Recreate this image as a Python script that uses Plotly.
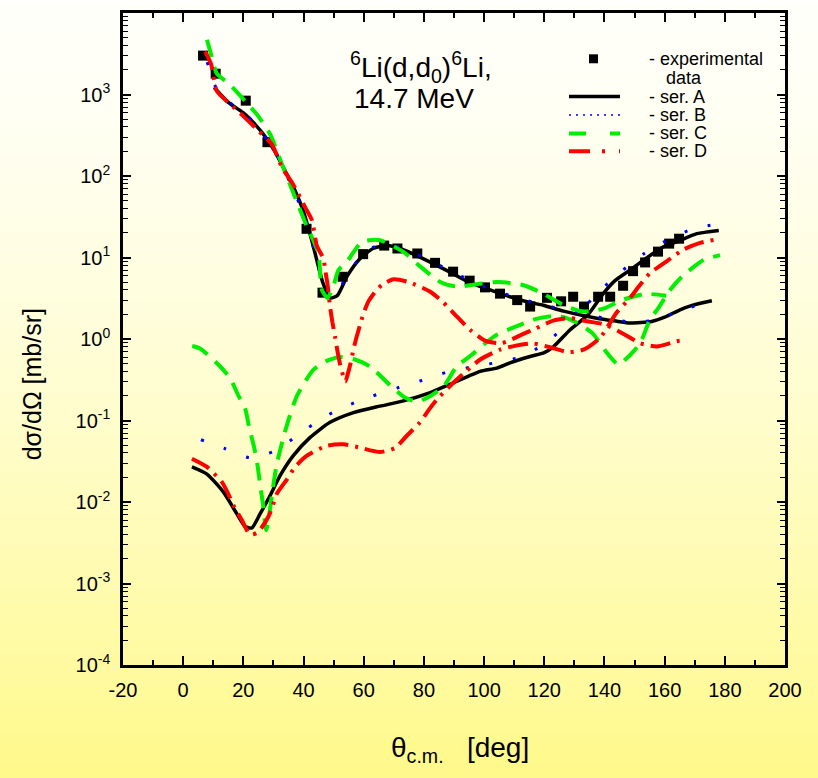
import plotly.graph_objects as go

# ---------------- data ----------------
exp_x = [6.6, 10.8, 20.8, 28.0, 41.0, 46.3, 53.0, 59.8, 66.8, 71.2, 77.8, 83.7, 89.7, 95.2,
         100.3, 105.3, 111.0, 115.3, 120.9, 125.6, 129.6, 133.2, 137.9, 141.9, 146.2,
         149.5, 153.5, 157.8, 161.5, 164.8]
exp_y = [3000, 1800, 840, 260, 22.5, 3.7, 5.8, 11.0, 14.0, 12.9, 11.2, 8.6, 6.7, 5.2,
         4.3, 3.6, 3.0, 2.5, 3.2, 2.9, 3.3, 2.5, 3.3, 3.3, 4.5,
         6.8, 8.7, 11.8, 14.8, 17.0]

A_up_x = [10.3, 15.0, 19.9, 23.9, 27.9, 30.6, 33.9, 37.2, 39.9, 42.5, 44.5, 46.5, 48.8, 51.2,
          54.5, 58.8, 63.1, 67.8, 72.1, 79.7, 87.7, 94.4, 102.0, 108.6, 115.3, 119.6, 126.4,
          137.4, 144.2, 148.5, 155.7, 160.0, 165.1, 169.4, 175.7]
A_up_y = [1220, 800, 600, 430, 283, 196, 115, 66, 37.5, 17.5, 9.0, 4.8, 3.2, 3.4,
          5.9, 9.7, 12.9, 14.0, 12.9, 9.7, 6.9, 5.1, 4.0, 3.3, 2.8, 2.6, 2.2,
          1.8, 1.65, 1.57, 1.64, 1.85, 2.28, 2.6, 2.95]

A_lo_x = [2.9, 7.9, 13.4, 17.8, 20.6, 22.8, 25.6, 28.9, 32.2, 36.6, 42.2, 48.8, 56.6, 65.4,
          73.2, 82.1, 89.8, 98.7, 104.2, 108.6, 115.3, 120.0, 123.0, 128.6, 134.6, 139.6,
          143.5, 148.5, 153.0, 159.6, 164.0, 170.7, 178.0]
A_lo_y = [0.027, 0.022, 0.0132, 0.0072, 0.0050, 0.0048, 0.0072, 0.012, 0.021, 0.037, 0.062,
          0.095, 0.125, 0.15, 0.174, 0.22, 0.29, 0.40, 0.44, 0.51, 0.61, 0.68, 0.8, 1.3, 2.0,
          3.6, 5.2, 7.0, 9.3, 13.5, 15.5, 19.6, 21.5]

B_up_x = [8.0, 10.5, 15.0, 20.0, 24.0, 28.0, 31.0, 34.0, 37.0, 40.0, 42.5, 45.0, 47.5, 49.5,
          52.0, 55.0, 59.0, 63.0, 68.0, 72.0, 80.0, 88.0, 95.0, 102.0, 110.0, 120.0, 130.0,
          140.0, 150.0, 158.0, 166.0, 176.0]
B_up_y = [2500, 1300, 820, 610, 430, 275, 185, 110, 62, 35, 17, 7.5, 3.6, 3.4,
          4.2, 6.5, 10.2, 13.3, 14.4, 13.3, 10.0, 7.1, 5.3, 4.1, 3.3, 2.6, 2.15,
          1.8, 1.6, 1.75, 2.3, 2.9]

B_lo_x = [5.9, 14.0, 22.0, 30.3, 38.3, 46.6, 54.9, 63.0, 71.0, 79.3, 87.4, 95.3, 103.6, 112.0,
          119.7, 126.9, 133.0, 139.1, 145.7, 153.5, 161.8, 169.5, 177.3]
B_lo_y = [0.058, 0.045, 0.035, 0.042, 0.067, 0.109, 0.154, 0.20, 0.25, 0.31, 0.39, 0.45, 0.51,
          0.60, 0.85, 1.43, 2.4, 4.1, 6.8, 11.4, 17.0, 22.5, 25.6]

C_up_x = [7.9, 9.0, 11.2, 15.0, 20.6, 24.5, 28.9, 32.8, 37.2, 41.1, 43.0, 45.0, 46.1, 48.0,
          50.0, 51.6, 54.4, 59.4, 65.4, 73.2, 78.2, 85.4, 90.9, 99.2, 104.8, 112.8, 118.4,
          126.4, 131.9, 136.0, 140.2, 145.7, 153.5, 160.5]
C_up_y = [4700, 3380, 1800, 1380, 830, 570, 325, 140, 55, 24, 17, 11, 4.0, 3.2,
          4.6, 7.0, 8.9, 15.5, 16.3, 11.7, 8.1, 5.0, 4.4, 4.8, 5.0, 4.6, 3.8,
          2.6, 2.2, 2.2, 2.4, 3.0, 3.57, 3.4]

C_lo_x = [3.0, 5.7, 12.3, 15.6, 18.4, 20.6, 22.0, 23.4, 24.6, 25.6, 26.6, 27.6, 28.6, 29.6,
          31.1, 34.4, 37.8, 43.3, 48.3, 52.5, 57.1, 62.1, 68.8, 73.8, 78.0, 82.1, 86.5, 90.9,
          95.9, 103.7, 109.2, 117.0, 122.5, 126.5, 131.0, 136.0, 140.8, 144.6, 150.2, 152.4,
          155.1, 157.9, 161.8, 165.7, 172.9, 178.4]
C_lo_y = [0.82, 0.76, 0.46, 0.33, 0.20, 0.14, 0.08, 0.05, 0.03, 0.016, 0.009, 0.0045, 0.007,
          0.013, 0.029, 0.086, 0.20, 0.42, 0.55, 0.60, 0.56, 0.46, 0.27, 0.19, 0.17, 0.20,
          0.26, 0.46, 0.64, 1.1, 1.36, 1.75, 1.9, 1.85, 1.57, 1.18, 0.68, 0.49, 0.74, 0.98,
          1.72, 2.4, 4.0, 5.8, 9.3, 10.7]

D_up_x = [7.3, 9.3, 11.2, 15.6, 20.0, 24.5, 29.5, 32.8, 36.1, 38.3, 40.5, 42.8, 44.4, 46.6,
          47.2, 48.0, 48.8, 49.6, 50.5, 51.3, 52.2, 53.3, 53.9, 54.6, 55.6, 56.6, 57.6, 58.8,
          60.0, 61.6, 63.8, 66.0, 69.9, 74.9, 82.1, 86.5, 90.4, 95.3, 100.5, 105.9, 112.5,
          117.4, 123.0, 128.6, 134.7, 140.2, 146.8, 151.8, 157.4, 164.0, 166.0]
D_up_y = [3380, 2340, 1100, 760, 543, 373, 245, 128, 84, 60, 41.5, 28.5, 14.0, 9.7,
          7.0, 4.6, 2.5, 1.6, 1.05, 0.70, 0.48, 0.34, 0.30, 0.36, 0.50, 0.75, 1.05, 1.5,
          2.1, 2.9, 3.8, 4.6, 5.4, 5.0, 3.8, 2.8, 1.98, 1.3, 0.95, 0.89, 1.13,
          1.36, 1.68, 1.80, 1.64, 1.5, 1.13, 0.89, 0.81, 0.94, 0.96]

D_lo_x = [2.9, 7.9, 12.9, 15.1, 16.7, 19.5, 21.7, 23.0, 25.0, 28.3, 29.8, 31.1, 34.5, 37.2,
          41.1, 47.7, 53.3, 58.2, 65.4, 70.4, 74.3, 78.7, 81.8, 84.8, 89.8, 94.0, 98.7, 105.3,
          110.6, 116.4, 122.5, 128.0, 133.0, 138.5, 144.0, 148.5, 151.6, 155.1, 161.2, 166.2,
          171.8, 178.4]
D_lo_y = [0.034, 0.027, 0.0175, 0.0123, 0.0091, 0.006, 0.0042, 0.0040, 0.0043, 0.0066, 0.0091,
          0.0126, 0.019, 0.027, 0.037, 0.049, 0.051, 0.047, 0.041, 0.046, 0.065, 0.095, 0.138,
          0.19, 0.29, 0.40, 0.56, 0.74, 0.83, 0.88, 0.78, 0.69, 0.74, 1.03, 2.1, 3.2, 4.5, 6.4,
          9.3, 12.5, 15.1, 17.0]

x_tick_vals = [-20, 0, 20, 40, 60, 80, 100, 120, 140, 160, 180, 200]
x_tick_text = ["-20", "0", "20", "40", "60", "80", "100", "120", "140", "160", "180", "200"]
y_tick_vals = [1e-4, 1e-3, 1e-2, 1e-1, 1e0, 1e1, 1e2, 1e3]
y_tick_text = ["10<sup>-4</sup>", "10<sup>-3</sup>", "10<sup>-2</sup>", "10<sup>-1</sup>",
               "10<sup>0</sup>", "10<sup>1</sup>", "10<sup>2</sup>", "10<sup>3</sup>"]
legend_labels = ["- experimental", "data", "- ser. A", "- ser. B", "- ser. C", "- ser. D"]

# ---------------- layout helpers ----------------
W, H = 818, 778
L, R, T, B = 123, 33, 10, 113
PW, PH = W - L - R, H - T - B
FONT = "Liberation Sans, Arial, sans-serif"


def px(x):
    return (x - L) / PW


def py(y):
    return (H - B - y) / PH


GREEN = "#00ee00"
RED = "#ff0000"
BLUE = "#0000ff"

styles = {
    "A": dict(color="black", width=3.5, dash="solid"),
    "B": dict(color=BLUE, width=3, dash="3px,21px"),
    "C": dict(color=GREEN, width=4, dash="18px,10px"),
    "D": dict(color=RED, width=4, dash="20px,7px,3px,7px"),
}

fig = go.Figure()
fig.add_trace(go.Scatter(x=exp_x, y=exp_y, mode="markers",
                         marker=dict(symbol="square", size=10, color="black"),
                         showlegend=False, hoverinfo="skip"))
series = [("A", A_up_x, A_up_y), ("A", A_lo_x, A_lo_y),
          ("B", B_up_x, B_up_y), ("B", B_lo_x, B_lo_y),
          ("C", C_up_x, C_up_y), ("C", C_lo_x, C_lo_y),
          ("D", D_up_x, D_up_y), ("D", D_lo_x, D_lo_y)]
for key, xs, ys in series:
    fig.add_trace(go.Scatter(x=xs, y=ys, mode="lines",
                             line=dict(shape="spline", smoothing=0.6, **styles[key]),
                             showlegend=False, hoverinfo="skip"))

# background gradient
shapes = []
N = 156
for i in range(N):
    y0 = i * H / N
    y1 = (i + 1) * H / N
    t = (y0 + y1) / 2 / H
    g = 255 - 6 * t ** 1.5
    b = 250 - 112 * t ** 1.4
    shapes.append(dict(type="rect", xref="paper", yref="paper",
                       x0=px(-2), x1=px(W + 2), y0=py(y1 + 0.6), y1=py(y0),
                       fillcolor=f"rgb(255,{g:.0f},{b:.0f})", line=dict(width=0),
                       layer="below"))

# custom legend symbols
shapes.append(dict(type="rect", xref="paper", yref="paper",
                   x0=px(589), x1=px(598), y0=py(60.5), y1=py(51.5),
                   fillcolor="black", line=dict(width=0)))
leg_y = [94, 112.5, 131, 149]
leg_dash = ["solid", "2px,5px", "17px,24px", "21px,12px,3px,14px"]
leg_w = [3.5, 1.5, 4, 4]
for key, yy, dsh, lw in zip(["A", "B", "C", "D"], leg_y, leg_dash, leg_w):
    shapes.append(dict(type="line", xref="paper", yref="paper",
                       x0=px(569), x1=px(620), y0=py(yy), y1=py(yy),
                       line=dict(color=styles[key]["color"], width=lw, dash=dsh)))

annotations = []
leg_pos = [(647, 56), (664, 75), (647, 94), (647, 112.5), (647, 131), (647, 149)]
for txt, (lx, ly) in zip(legend_labels, leg_pos):
    annotations.append(dict(text=txt, xref="paper", yref="paper", x=px(lx), y=py(ly),
                            xanchor="left", yanchor="middle", showarrow=False,
                            font=dict(family=FONT, size=18, color="black")))

annotations.append(dict(text="<sup>6</sup>Li(d,d<sub>0</sub>)<sup>6</sup>Li,",
                        xref="paper", yref="paper", x=px(348), y=py(64),
                        xanchor="left", yanchor="middle", showarrow=False,
                        font=dict(family=FONT, size=28, color="black")))
annotations.append(dict(text="14.7 MeV", xref="paper", yref="paper", x=px(352), y=py(96),
                        xanchor="left", yanchor="middle", showarrow=False,
                        font=dict(family=FONT, size=28, color="black")))

annotations.append(dict(text="d\u03c3/d\u03a9 [mb/sr]", xref="paper", yref="paper",
                        x=px(32), y=py(383), textangle=-90, xanchor="center",
                        yanchor="middle", showarrow=False,
                        font=dict(family=FONT, size=25, color="black")))
annotations.append(dict(text="\u03b8<sub>c.m.</sub>\u00a0\u00a0 [deg]", xref="paper",
                        yref="paper", x=px(460), y=py(750), xanchor="center",
                        yanchor="middle", showarrow=False,
                        font=dict(family=FONT, size=28, color="black")))

minor_log = [m * 10 ** e for e in range(-4, 4) for m in range(2, 10)]

fig.update_layout(
    width=W, height=H,
    margin=dict(l=L, r=R, t=T, b=B, pad=0),
    paper_bgcolor="white",
    plot_bgcolor="rgba(0,0,0,0)",
    shapes=shapes,
    annotations=annotations,
    showlegend=False,
    font=dict(family=FONT, color="black"),
    xaxis=dict(range=[-20, 200], tickmode="array", tickvals=x_tick_vals,
               ticktext=x_tick_text, ticks="inside", ticklen=9,
               tickwidth=2, tickcolor="black",
               minor=dict(tickmode="linear", tick0=0, dtick=10, ticks="inside", ticklen=5,
                          tickwidth=1.5, tickcolor="black", showgrid=False),
               showline=True, linewidth=2.5, linecolor="black", mirror="allticks",
               showgrid=False, zeroline=False, tickfont=dict(size=20, color="black"),
               ticklabelstandoff=5),
    yaxis=dict(type="log", range=[-4, 4], tickmode="array", tickvals=y_tick_vals,
               ticktext=y_tick_text, ticks="inside", ticklen=8, tickwidth=2,
               tickcolor="black",
               minor=dict(tickmode="array", tickvals=minor_log, ticks="inside",
                          ticklen=5, tickwidth=1.3, tickcolor="black", showgrid=False),
               showline=True, linewidth=2.5, linecolor="black", mirror="allticks",
               showgrid=False, zeroline=False, tickfont=dict(size=20, color="black"),
               ticklabelstandoff=6),
)

fig.write_html("out.html")
